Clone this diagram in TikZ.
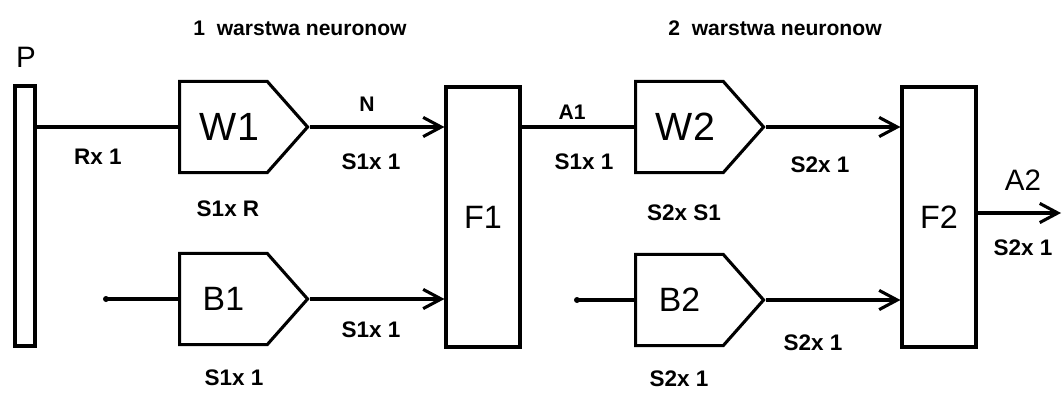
\documentclass[tikz,border=0pt]{standalone}
\usepackage{fontspec}
\setmainfont{Liberation Sans}
\usepackage{tikz}
\usetikzlibrary{arrows.meta,shapes.symbols}

\begin{document}
\begin{tikzpicture}[x=0.025cm,y=-0.025cm,line width=2.2pt,
  >={Straight Barb[length=4.5mm,width=4.8mm]},
  blok/.style={signal,signal to=east,signal pointer angle=97,draw,anchor=west,inner sep=0pt,minimum width=3.2cm,minimum height=2.28cm,font=\fontsize{24}{24}\selectfont},
  funkcja/.style={rectangle,draw,inner sep=0pt,minimum width=1.85cm,minimum height=6.5cm,font=\fontsize{23}{23}\selectfont},
  wym/.style={font=\bfseries\fontsize{16}{16}\selectfont,inner sep=0pt},
  syg/.style={font=\bfseries\fontsize{15}{15}\selectfont,inner sep=0pt},
  tytul/.style={font=\bfseries\fontsize{15}{15}\selectfont,inner sep=0pt}]
  \useasboundingbox (0,0) rectangle (1062,394);
  % naglowki warstw
  \node[tytul] (t1) at (300,28) {1~ warstwa neuronow};
  \node[tytul] (t2) at (775,28) {2~ warstwa neuronow};
  % wejscie P
  \node[font=\fontsize{21}{21}\selectfont,inner sep=0pt] (pl) at (26,57) {P};
  \node[rectangle,draw,inner sep=0pt,minimum width=0.5cm,minimum height=6.5cm] (P) at (25,216) {};
  % 1 warstwa
  \node[blok] (W1) at (178,127) {\hspace*{0.3cm}\fontsize{28}{28}\selectfont W1};
  \node[blok] (B1) at (178,299) {B1};
  \node[funkcja] (F1) at (483,217) {F1};
  \coordinate (b1in) at (106,299);
  % 2 warstwa
  \node[blok] (W2) at (634,127) {\hspace*{0.3cm}\fontsize{28}{28}\selectfont W2};
  \node[blok] (B2) at (634,300) {B2};
  \node[funkcja] (F2) at (939,217) {F2};
  \coordinate (b2in) at (577,300);
  \coordinate (a2out) at (1061,213);
  % polaczenia
  \draw (W1.west -| P.east) -- (W1.west);
  \draw[->] (W1.east) -- (W1.east -| F1.west);
  \fill (b1in) circle (3);
  \draw (b1in) -- (B1.west);
  \draw[->] (B1.east) -- (B1.east -| F1.west);
  \draw (W2.west -| F1.east) -- (W2.west);
  \draw[->] (W2.east) -- (W2.east -| F2.west);
  \fill (b2in) circle (3);
  \draw (b2in) -- (B2.west);
  \draw[->] (B2.east) -- (B2.east -| F2.west);
  \draw[->] (a2out -| F2.east) -- (a2out);
  % wymiary
  \node[wym] (d1) at (98,157) {Rx 1};
  \node[wym] (d2) at (228,209) {S1x R};
  \node[syg] (n) at (367,104) {N};
  \node[wym] (d3) at (371,162) {S1x 1};
  \node[wym] (d4) at (371,330) {S1x 1};
  \node[wym] (d5) at (234,378) {S1x 1};
  \node[syg] (a1) at (572,112) {A1};
  \node[wym] (d6) at (584,162) {S1x 1};
  \node[wym] (d7) at (684,213) {S2x S1};
  \node[wym] (d8) at (820,165) {S2x 1};
  \node[wym] (d9) at (813,343) {S2x 1};
  \node[wym] (d10) at (679,379) {S2x 1};
  \node[font=\fontsize{21}{21}\selectfont,inner sep=0pt] (a2) at (1023,180) {A2};
  \node[wym] (d11) at (1023,248) {S2x 1};
\end{tikzpicture}
\end{document}
